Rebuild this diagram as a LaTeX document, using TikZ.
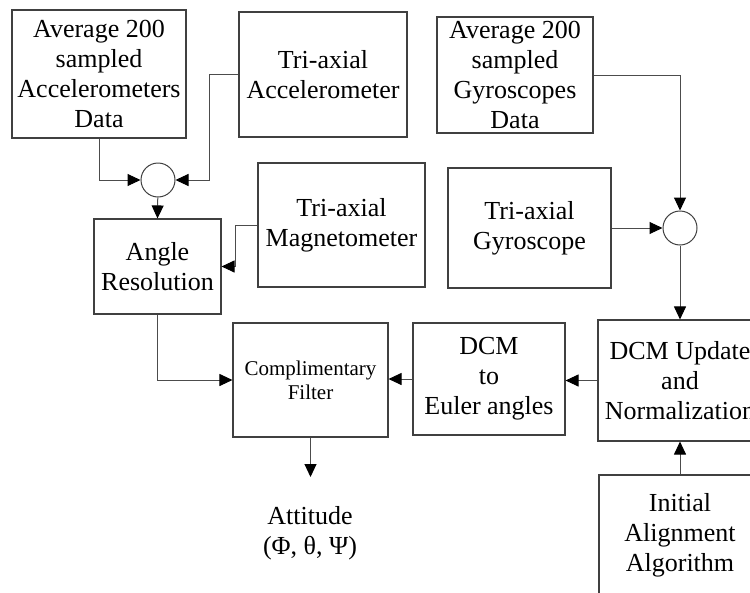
\documentclass[tikz,border=0pt]{standalone}
\usepackage{fontspec}
\setmainfont{Liberation Serif}
\usetikzlibrary{arrows.meta}
\begin{document}
\begin{tikzpicture}[x=1pt,y=-1pt,
  box/.style={draw=black!75,line width=1.1pt,align=center,inner sep=0pt,
    font=\fontsize{26}{30}\selectfont},
  sumc/.style={draw=black!75,line width=1pt,circle,minimum size=34pt,inner sep=0pt},
  arr/.style={draw=black!70,line width=1pt,-{Triangle[length=13pt,width=12pt,fill=black,color=black]}},
  lbl/.style={align=center,font=\fontsize{26}{30}\selectfont}]
\useasboundingbox (0,0) rectangle (750,592);
\clip (0,0) rectangle (750,592);
\node[box,minimum width=174pt,minimum height=128pt] (avgA) at (99,74)
  {Average 200\\sampled\\Accelerometers\\Data};
\node[box,minimum width=168pt,minimum height=125pt] (triB) at (323,74.5)
  {Tri-axial\\Accelerometer};
\node[box,minimum width=156pt,minimum height=116pt] (avgC) at (515,75)
  {Average 200\\sampled\\Gyroscopes\\Data};
\node[sumc] (s1) at (158,180) {};
\node[box,minimum width=127pt,minimum height=95pt] (ar) at (157.5,266.5)
  {Angle\\Resolution};
\node[box,minimum width=167pt,minimum height=124pt] (mag) at (341.5,225)
  {Tri-axial\\Magnetometer};
\node[box,minimum width=163pt,minimum height=120pt] (gyro) at (529.5,228)
  {Tri-axial\\Gyroscope};
\node[sumc] (s2) at (680,228) {};
\node[box,minimum width=164pt,minimum height=121pt] (dcmU) at (680,380.5)
  {DCM Update\\and\\Normalization};
\node[box,minimum width=152pt,minimum height=112pt] (eul) at (489,379)
  {DCM\\to\\Euler angles};
\node[box,minimum width=155pt,minimum height=114pt,font=\fontsize{21}{24}\selectfont] (cf) at (310.5,380)
  {Complimentary\\Filter};
\node[box,minimum width=162pt,minimum height=121pt] (ia) at (680,535.5)
  {Initial\\Alignment\\Algorithm};
\node[lbl] (att) at (310,533) {Attitude\\(Φ, θ, Ψ)};
\coordinate (b1) at (209,74.5);
\coordinate (m1) at (235,225);
\coordinate (cfout) at (310.5,477);
\draw[arr] (avgA.south) |- (s1);
\draw[arr] (triB.west) -- (b1) |- (s1);
\draw[arr] (s1) -- (ar.north);
\draw[arr] (mag.west) -- (m1) |- (ar.east);
\draw[arr] (ar.south) |- (cf.west);
\draw[arr] (avgC.east) -| (s2);
\draw[arr] (gyro.east) -- (s2);
\draw[arr] (s2) -- (dcmU.north);
\draw[arr] (ia.north) -- (dcmU.south);
\draw[arr] (dcmU.west) -- (eul.east |- dcmU.west);
\draw[arr] (eul.west) -- (cf.east |- eul.west);
\draw[arr] (cf.south) -- (cfout);
\end{tikzpicture}
\end{document}
